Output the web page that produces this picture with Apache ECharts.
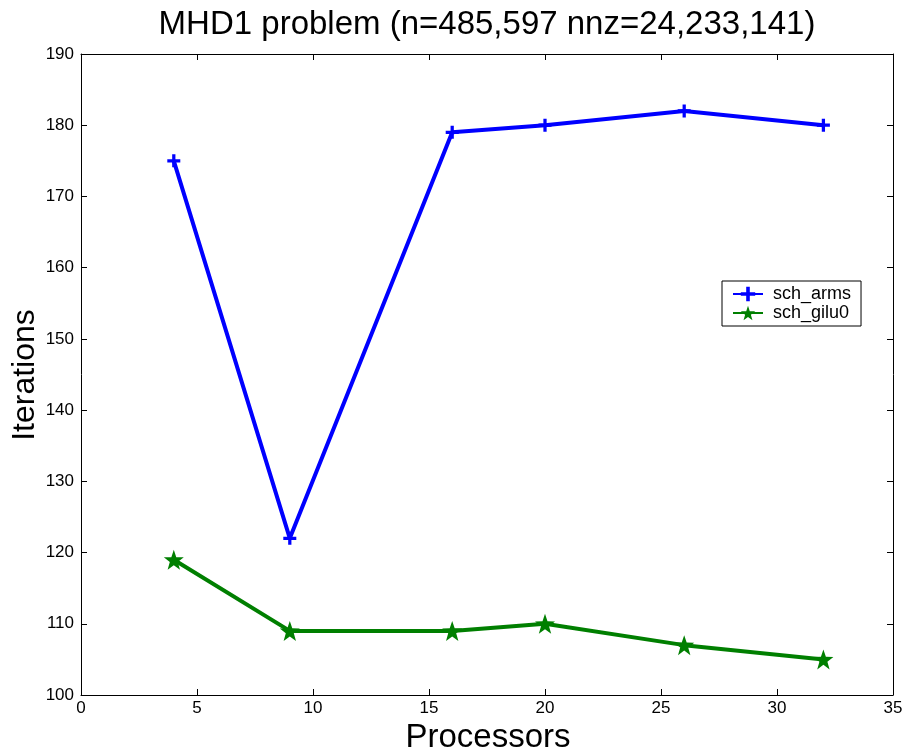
<!DOCTYPE html>
<html><head><meta charset="utf-8">
<script src="https://cdn.jsdelivr.net/npm/echarts@6/dist/echarts.min.js"></script>
<style>html,body{margin:0;padding:0;background:#fff}#c{width:908px;height:756px}</style>
</head><body><div id="c"></div>
<script>
const processors = [4, 9, 16, 20, 26, 32];
const schArms = [175, 122, 179, 180, 182, 180];
const schGilu0 = [119, 109, 109, 110, 107, 105];
const seriesNames = ['sch_arms', 'sch_gilu0'];
const titleText = 'MHD1 problem (n=485,597 nnz=24,233,141)';
const xName = 'Processors';
const yName = 'Iterations';

const plus = 'path://M4.5,0H7.5V4.5H12V7.5H7.5V12H4.5V7.5H0V4.5H4.5Z';
const star = 'path://M0,-10L2.35,-3.24L9.51,-3.09L3.8,1.24L5.88,8.09L0,4L-5.88,8.09L-3.8,1.24L-9.51,-3.09L-2.35,-3.24Z';
const font = 'Liberation Sans, Arial, sans-serif';
const chart = echarts.init(document.getElementById('c'));
const axisCommon = {
  axisLine: {show: true, onZero: false, lineStyle: {color: '#000', width: 1}},
  axisTick: {show: true, inside: true, length: 6, lineStyle: {color: '#000'}},
  splitLine: {show: false}
};
chart.setOption({
  animation: false,
  graphic: [
    {type: 'text', x: 487, y: 25, style: {text: titleText, fontFamily: font, fontSize: 33,
      fill: '#000', align: 'center', verticalAlign: 'middle'}},
    {type: 'text', x: 488, y: 738, style: {text: xName, fontFamily: font, fontSize: 33,
      fill: '#000', align: 'center', verticalAlign: 'middle'}},
    {type: 'text', x: 25, y: 375, rotation: Math.PI / 2, style: {text: yName, fontFamily: font, fontSize: 32,
      fill: '#000', align: 'center', verticalAlign: 'middle'}}
  ],
  grid: {left: 81, right: 15, top: 54, bottom: 61, outerBoundsMode: 'none', containLabel: false},
  legend: {
    left: 722, top: 281, orient: 'vertical', itemWidth: 30, itemHeight: 18, itemGap: 1,
    padding: [4, 10, 4, 10], borderColor: '#000', borderWidth: 1, backgroundColor: '#fff',
    textStyle: {fontFamily: font, fontSize: 18, lineHeight: 18, color: '#000', padding: [0, 0, 0, 5]},
    data: seriesNames
  },
  xAxis: [
    Object.assign({type: 'value', min: 0, max: 35, interval: 5, position: 'bottom',
      axisLabel: {fontFamily: font, fontSize: 17, color: '#000', margin: 5}}, axisCommon),
    Object.assign({type: 'value', min: 0, max: 35, interval: 5, position: 'top',
      axisLabel: {show: false}}, axisCommon)
  ],
  yAxis: [
    Object.assign({type: 'value', min: 100, max: 190, interval: 10, position: 'left',
      axisLabel: {fontFamily: font, fontSize: 17, color: '#000', margin: 7}}, axisCommon),
    Object.assign({type: 'value', min: 100, max: 190, interval: 10, position: 'right',
      axisLabel: {show: false}}, axisCommon)
  ],
  series: [
    {name: seriesNames[0], type: 'line', data: processors.map((p, i) => [p, schArms[i]]),
      color: '#0000ff', lineStyle: {width: 4, color: '#0000ff'},
      symbol: plus, symbolSize: 13, itemStyle: {color: '#0000ff'}},
    {name: seriesNames[1], type: 'line', data: processors.map((p, i) => [p, schGilu0[i]]),
      color: '#007f00', lineStyle: {width: 4, color: '#007f00'},
      symbol: star, symbolSize: 20, itemStyle: {color: '#007f00'}}
  ]
});
</script></body></html>
